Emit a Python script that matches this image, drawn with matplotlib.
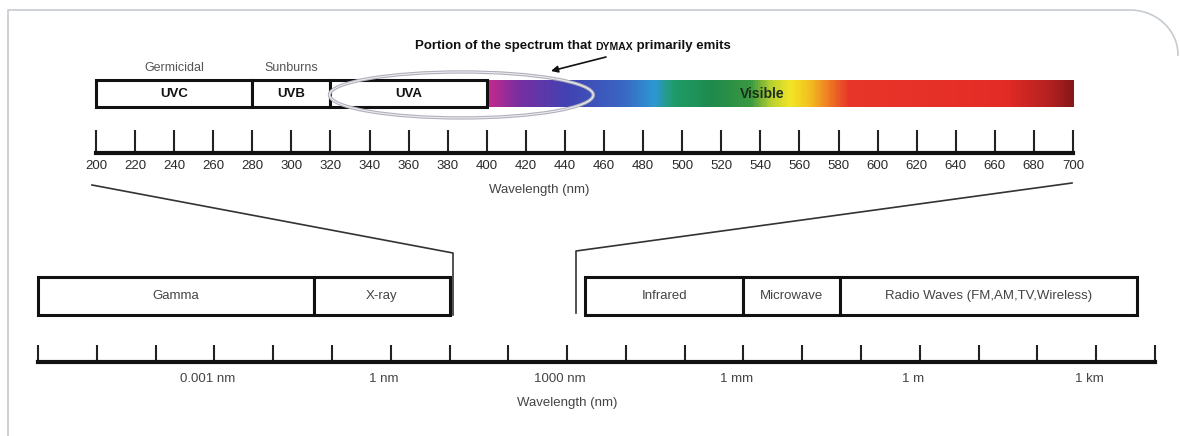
import numpy as np
import matplotlib.pyplot as plt
from matplotlib.colors import LinearSegmentedColormap
from matplotlib.patches import Rectangle, Ellipse
from matplotlib.lines import Line2D
from matplotlib.ticker import NullLocator

plt.rcParams['font.family'] = ['Liberation Sans', 'DejaVu Sans']

W, H = 1180, 436

# --- top scale: UV bands and the visible range (nm, linear) ---
uv_names = ["UVC", "UVB", "UVA"]
uv_start = [200, 280, 320]
uv_end = [280, 320, 400]
uv_notes = ["Germicidal", "Sunburns", ""]
visible_start, visible_end = 400, 700
visible_nm = [400, 415, 440, 470, 485, 495, 515, 535, 545, 555, 565, 575, 585, 665, 690, 700]
visible_hex = ["#c42a8c", "#7a2ea0", "#4242b2", "#3a68c4", "#2e98d4", "#1f9c6a",
               "#1e8a4c", "#3c9a40", "#b8d030", "#f2e626", "#f4c020", "#ef7a24",
               "#e8362a", "#e42c26", "#b02020", "#861818"]
top_ticks = list(range(200, 701, 20))
dymax_center, dymax_width = 387, 135

# --- bottom scale: whole EM spectrum (nm, log) ---
em_names = ["Gamma", "X-ray", "Infrared", "Microwave", "Radio Waves (FM,AM,TV,Wireless)"]
em_start = [1e-6, 0.05, 2e3, 1e6, 4.4e7]
em_end = [0.05, 10, 1e6, 4.4e7, 5e12]
bottom_ticks = [10.0 ** k for k in range(-6, 14)]
bottom_label_at = [1e-3, 1, 1e3, 1e6, 1e9, 1e12]
bottom_labels = ["0.001 nm", "1 nm", "1000 nm", "1 mm", "1 m", "1 km"]


def px_box(x0, y0, x1, y1):
    # image pixel box (top-left origin) -> figure fraction rect
    return [x0 / W, 1 - y1 / H, (x1 - x0) / W, (y1 - y0) / H]


def fx(x):
    return x / W


def fy(y):
    return 1 - y / H


fig = plt.figure(figsize=(W / 100, H / 100), dpi=100)

# page border (light gray, rounded top-right)
t = np.linspace(0, np.pi / 2, 30)
bx = np.concatenate([[8, 8], 1130 + 48 * np.sin(t)])
by = np.concatenate([[436, 10], 10 + 45 * (1 - np.cos(t))])
fig.add_artist(Line2D(fx(bx), fy(by), color="#c6cbd0", lw=1.2))

# ---------------- top axes ----------------
ax1 = fig.add_axes(px_box(96, 80, 1073, 153))
ax1.set_xlim(200, 700)
ax1.set_ylim(0, 1)
bar_lo, bar_hi = 0.63, 1.0

for name, s, e, note in zip(uv_names, uv_start, uv_end, uv_notes):
    ax1.add_patch(Rectangle((s, bar_lo), e - s, bar_hi - bar_lo, facecolor="white",
                            edgecolor="#111111", lw=2.2, clip_on=False, zorder=3))
    ax1.text((s + e) / 2, (bar_lo + bar_hi) / 2, name, ha="center", va="center",
             fontsize=9.5, fontweight="bold", color="#111111", zorder=4)
    if note:
        ax1.text((s + e) / 2, bar_hi + 0.08, note, ha="center", va="bottom",
                 fontsize=9, color="#555555")

cmap = LinearSegmentedColormap.from_list(
    "visible", [((v - visible_start) / (visible_end - visible_start), c)
                for v, c in zip(visible_nm, visible_hex)])
grad = np.linspace(visible_start, visible_end, 600)[None, :]
ax1.imshow(grad, extent=[visible_start, visible_end, bar_lo, bar_hi], aspect="auto",
           cmap=cmap, vmin=visible_start, vmax=visible_end, zorder=2)
ax1.text(541, (bar_lo + bar_hi) / 2, "Visible", ha="center", va="center",
         fontsize=10, fontweight="bold", color="#1c2e1c", zorder=4)

# highlight of the band DYMAX lamps emit (light double outline)
ax1.add_patch(Ellipse((dymax_center, 0.795), dymax_width, 0.63, facecolor="none",
                      edgecolor="#b0b0ba", lw=2.4, clip_on=False, zorder=5))
ax1.add_patch(Ellipse((dymax_center, 0.795), dymax_width, 0.63, facecolor="none",
                      edgecolor="#ececf2", lw=0.8, clip_on=False, zorder=5))

ax1.set_xticks(top_ticks)
ax1.set_yticks([])
for sp in ["top", "left", "right"]:
    ax1.spines[sp].set_visible(False)
ax1.spines["bottom"].set_linewidth(3)
ax1.spines["bottom"].set_color("#111111")
ax1.tick_params(axis="x", direction="in", length=16.5, width=1.5, color="#222222",
                labelsize=9.5, labelcolor="#2a2a2a", pad=5)
ax1.set_xlabel("Wavelength (nm)", fontsize=9.5, color="#444444")
ax1.xaxis.set_label_coords(0.454, -0.42)
ax1.patch.set_alpha(0)

# ---------------- bottom axes ----------------
ax2 = fig.add_axes(px_box(38, 277, 1155, 362))
ax2.set_xscale("log")
ax2.set_xlim(bottom_ticks[0], bottom_ticks[-1])
ax2.set_ylim(0, 1)
box_lo = 0.553

for name, s, e in zip(em_names, em_start, em_end):
    ax2.add_patch(Rectangle((s, box_lo), e - s, 1 - box_lo, facecolor="white",
                            edgecolor="#111111", lw=2.2, clip_on=False, zorder=3))
    ax2.text(np.sqrt(s * e), (box_lo + 1) / 2, name, ha="center", va="center",
             fontsize=9.5, color="#444444", zorder=4)

ax2.set_xticks(bottom_ticks)
ax2.set_xticklabels([])
ax2.xaxis.set_minor_locator(NullLocator())
ax2.set_yticks([])
for sp in ["top", "left", "right"]:
    ax2.spines[sp].set_visible(False)
ax2.spines["bottom"].set_linewidth(3)
ax2.spines["bottom"].set_color("#111111")
ax2.tick_params(axis="x", direction="in", length=12.5, width=1.5, color="#222222")
for v, lab in zip(bottom_label_at, bottom_labels):
    ax2.annotate(lab, xy=(v, 0), xycoords=("data", "axes fraction"),
                 xytext=(-5, -8), textcoords="offset points", ha="center", va="top",
                 fontsize=9.5, color="#444444")
ax2.set_xlabel("Wavelength (nm)", fontsize=9.5, color="#444444")
ax2.xaxis.set_label_coords(0.474, -0.41)
ax2.patch.set_alpha(0)

# zoom lines from the detailed scale down to the full spectrum
fig.add_artist(Line2D(fx(np.array([92, 453, 453])), fy(np.array([185, 253, 315])),
                      color="#333333", lw=1.2))
fig.add_artist(Line2D(fx(np.array([1072, 576, 576])), fy(np.array([183, 251, 313])),
                      color="#333333", lw=1.2))

# annotation for the DYMAX emission portion (DYMAX in small caps)
t1 = fig.text(fx(415), fy(52), "Portion of the spectrum that ", fontsize=9.5,
              fontweight="bold", color="#111111", ha="left", va="bottom")
t2 = ax1.annotate("DYMAX", xy=(1, 0.03), xycoords=t1, fontsize=7.5, fontweight="bold",
                  color="#111111", ha="left", va="bottom")
ax1.annotate(" primarily emits", xy=(1, -0.03), xycoords=t2, fontsize=9.5,
             fontweight="bold", color="#111111", ha="left", va="bottom")
ax1.annotate("", xy=(551, H - 71), xycoords="figure pixels",
             xytext=(606, H - 57), textcoords="figure pixels",
             arrowprops=dict(arrowstyle="-|>", color="#111111", lw=1.2,
                             mutation_scale=10, shrinkA=0, shrinkB=0))

fig.savefig("out.png", dpi=100)
